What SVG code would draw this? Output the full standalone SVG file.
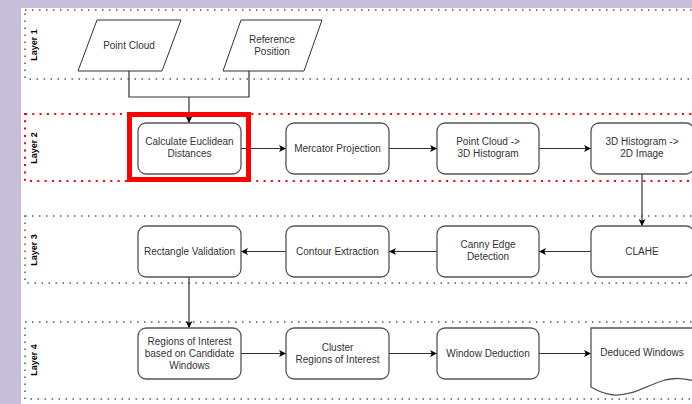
<svg xmlns="http://www.w3.org/2000/svg" width="692" height="404" viewBox="0 0 692 404">
<style>
.band{fill:none;stroke:#555;stroke-width:1.5;stroke-dasharray:1.5 5.5}
.bandr{fill:none;stroke:#ff0000;stroke-width:2;stroke-dasharray:2 5.3}
.box{fill:#fff;stroke:#555;stroke-width:1.3}
.t{font-family:"Liberation Sans",Arial,sans-serif;font-size:10px;fill:#333;text-anchor:middle}
.lbl{font-family:"Liberation Sans",Arial,sans-serif;font-size:9px;font-weight:bold;fill:#000;text-anchor:middle}
.c{fill:none;stroke:#333;stroke-width:1.2}
</style>
<defs>
<marker id="ah" viewBox="0 0 10 10" refX="10" refY="5" markerWidth="7" markerHeight="7" markerUnits="userSpaceOnUse" orient="auto">
<path d="M0,0 L10,5 L0,10 L2.5,5 Z" fill="#000"/>
</marker>
</defs>
<rect x="0" y="0" width="692" height="404" fill="#c6bed8"/>
<rect x="21" y="8" width="671" height="396" fill="#fff"/>

<g id="layer1">
<rect class="band" x="25" y="10" width="700" height="69"/>
<text class="lbl" transform="translate(37,45) rotate(-90)">Layer 1</text>
</g>
<g id="layer2">
<rect class="bandr" x="25" y="114" width="700" height="67"/>
<text class="lbl" transform="translate(37,148) rotate(-90)">Layer 2</text>
</g>
<g id="layer3">
<rect class="band" x="25" y="216" width="700" height="67"/>
<text class="lbl" transform="translate(37,250) rotate(-90)">Layer 3</text>
</g>
<g id="layer4">
<rect class="band" x="25" y="322" width="700" height="77"/>
<text class="lbl" transform="translate(37,360) rotate(-90)">Layer 4</text>
</g>

<g id="connectors">
<path class="c" d="M129,71 V97 H249 V71"/>
<path class="c" d="M189,97 V123" marker-end="url(#ah)"/>
<path class="c" d="M241,148.5 H286" marker-end="url(#ah)"/>
<path class="c" d="M389,148.5 H437" marker-end="url(#ah)"/>
<path class="c" d="M539,148.5 H591" marker-end="url(#ah)"/>
<path class="c" d="M642,174 V226" marker-end="url(#ah)"/>
<path class="c" d="M591,251.5 H539" marker-end="url(#ah)"/>
<path class="c" d="M437,251.5 H389" marker-end="url(#ah)"/>
<path class="c" d="M286,251.5 H241" marker-end="url(#ah)"/>
<path class="c" d="M189,277 V328" marker-end="url(#ah)"/>
<path class="c" d="M241,353.5 H286" marker-end="url(#ah)"/>
<path class="c" d="M389,353.5 H437" marker-end="url(#ah)"/>
<path class="c" d="M539,353.5 H591" marker-end="url(#ah)"/>
</g>

<g id="point-cloud">
<path d="M97,20 H181 L162,71 H78 Z" fill="#fff" stroke="#333" stroke-width="1"/>
<text class="t" x="129" y="49">Point Cloud</text>
</g>
<g id="reference-position">
<path d="M241,20 H322 L304,71 H223 Z" fill="#fff" stroke="#333" stroke-width="1"/>
<text class="t" x="272" y="43">Reference</text>
<text class="t" x="272" y="55">Position</text>
</g>

<g id="calc-euclidean">
<rect class="box" x="138" y="123" width="103" height="51" rx="8"/>
<text class="t" x="189.5" y="145">Calculate Euclidean</text>
<text class="t" x="189.5" y="157">Distances</text>
</g>
<g id="highlight">
<rect x="129.5" y="114.5" width="119" height="65" fill="none" stroke="#ff0000" stroke-width="5"/>
</g>
<g id="mercator">
<rect class="box" x="286" y="123" width="103" height="51" rx="8"/>
<text class="t" x="337.5" y="152">Mercator Projection</text>
</g>
<g id="pc-3dhist">
<rect class="box" x="437" y="123" width="102" height="51" rx="8"/>
<text class="t" x="488" y="145">Point Cloud -&gt;</text>
<text class="t" x="488" y="157">3D Histogram</text>
</g>
<g id="3dhist-2dimg">
<rect class="box" x="591" y="123" width="103" height="51" rx="8"/>
<text class="t" x="642" y="145">3D Histogram -&gt;</text>
<text class="t" x="642" y="157">2D Image</text>
</g>

<g id="rect-validation">
<rect class="box" x="138" y="226" width="103" height="51" rx="8"/>
<text class="t" x="189.5" y="255">Rectangle Validation</text>
</g>
<g id="contour">
<rect class="box" x="286" y="226" width="103" height="51" rx="8"/>
<text class="t" x="337.5" y="255">Contour Extraction</text>
</g>
<g id="canny">
<rect class="box" x="437" y="226" width="102" height="51" rx="8"/>
<text class="t" x="488" y="248">Canny Edge</text>
<text class="t" x="488" y="260">Detection</text>
</g>
<g id="clahe">
<rect class="box" x="591" y="226" width="103" height="51" rx="8"/>
<text class="t" x="642" y="255">CLAHE</text>
</g>

<g id="roi">
<rect class="box" x="138" y="328" width="103" height="51" rx="8"/>
<text class="t" x="189.5" y="345">Regions of Interest</text>
<text class="t" x="189.5" y="357">based on Candidate</text>
<text class="t" x="189.5" y="369">Windows</text>
</g>
<g id="cluster">
<rect class="box" x="286" y="328" width="103" height="51" rx="8"/>
<text class="t" x="337.5" y="351">Cluster</text>
<text class="t" x="337.5" y="363">Regions of Interest</text>
</g>
<g id="window-deduction">
<rect class="box" x="437" y="328" width="102" height="51" rx="8"/>
<text class="t" x="488" y="357">Window Deduction</text>
</g>
<g id="deduced-windows">
<path class="box" d="M591,328 H695 V381 C685,379 676,377 665,380 C645,386 632,396 614,395 C603,394 596,390 591,387 Z"/>
<text class="t" x="642" y="356">Deduced Windows</text>
</g>
</svg>
